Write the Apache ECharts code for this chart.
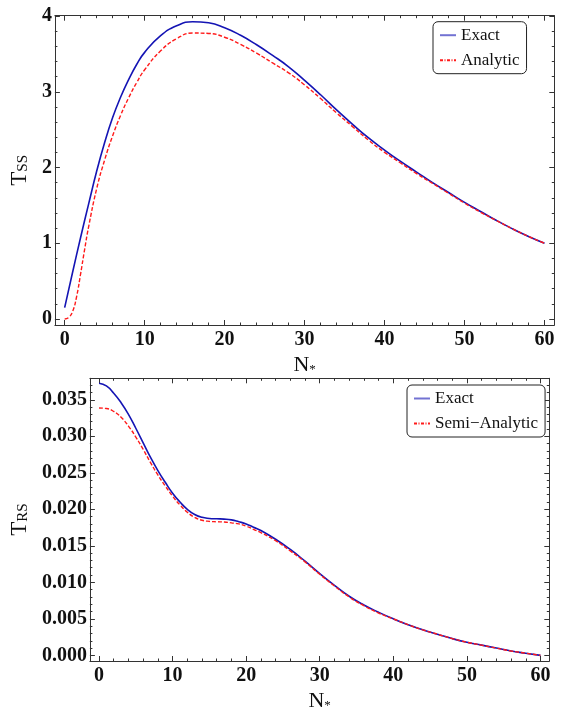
<!DOCTYPE html>
<html>
<head>
<meta charset="utf-8">
<script src="https://cdn.jsdelivr.net/npm/echarts@6/dist/echarts.min.js"></script>
<style>
  html, body { margin: 0; padding: 0; background: #fff; }
  #chart { width: 563px; height: 713px; }
</style>
</head>
<body>
<div id="chart"></div>
<script>
// ---- Upper panel: T_SS versus N* ----
const nTopExact = [0, 1, 2, 3, 4, 5, 6, 7, 8, 9, 10, 12, 14, 16, 18, 20, 22, 24, 26, 28, 30,
  32, 34, 36, 38, 40, 42, 44, 46, 48, 50, 52, 54, 56, 58, 60];
const exactTop = [0.15, 0.62, 1.08, 1.52, 1.95, 2.33, 2.66, 2.93, 3.16, 3.36, 3.52, 3.74, 3.87, 3.925,
  3.91, 3.845, 3.745, 3.62, 3.48, 3.33, 3.15, 2.96, 2.76, 2.57, 2.39, 2.23, 2.08, 1.94, 1.80,
  1.67, 1.54, 1.42, 1.30, 1.19, 1.09, 1.00];

const nTopAnalytic = [0, 0.5, 1, 1.5, 2, 2.5, 3, 4, 5, 6, 7, 8, 9, 10, 12, 14, 16, 18, 20, 22,
  24, 26, 28, 30, 32, 34, 36, 38, 40, 42, 44, 46, 48, 50, 52, 54, 56, 58, 60];
const analyticTop = [0.0, 0.02, 0.1, 0.3, 0.6, 0.92, 1.22, 1.72, 2.1, 2.42, 2.69, 2.92, 3.12, 3.29,
  3.54, 3.70, 3.775, 3.77, 3.72, 3.625, 3.51, 3.38, 3.25, 3.09, 2.91, 2.72, 2.54, 2.36, 2.20,
  2.06, 1.92, 1.79, 1.66, 1.53, 1.41, 1.30, 1.19, 1.09, 1.00];

// ---- Lower panel: T_RS versus N* ----
const nBottom = [0, 1, 2, 3, 4, 5, 6, 7, 8, 9, 10, 11, 12, 13, 14, 15, 16, 17, 18, 19, 20, 21, 22,
  24, 26, 28, 30, 32, 34, 36, 38, 40, 42, 44, 46, 48, 50, 52, 54, 56, 58, 60];
const exactBottom = [0.03727, 0.0369, 0.0359, 0.0346, 0.0330, 0.0311, 0.0291, 0.0271, 0.0253,
  0.0237, 0.0222, 0.0210, 0.0200, 0.0193, 0.0189, 0.01875, 0.01870, 0.01866, 0.01855, 0.0183,
  0.0180, 0.01755, 0.0171, 0.0159, 0.0145, 0.0129, 0.0112, 0.0096, 0.0081, 0.0069, 0.0059, 0.0050,
  0.0042, 0.0035, 0.0029, 0.0023, 0.0018, 0.0014, 0.0010, 0.0006, 0.0003, 0.0];
const semiBottom = [0.03387, 0.0338, 0.0334, 0.0326, 0.0314, 0.0299, 0.0282, 0.0264, 0.0247,
  0.0232, 0.0218, 0.0206, 0.0196, 0.0189, 0.0185, 0.01835, 0.01830, 0.01826, 0.01815, 0.0180,
  0.0177, 0.01725, 0.0168, 0.0157, 0.0143, 0.0128, 0.0111, 0.0095, 0.0080, 0.0068, 0.0058, 0.0050,
  0.0042, 0.0035, 0.0029, 0.0023, 0.0018, 0.0014, 0.0010, 0.0006, 0.0003, 0.0];

// ---- Tick labels ----
const xTicks = [0, 10, 20, 30, 40, 50, 60];
const yTicksTop = [0, 1, 2, 3, 4];
const yTicksBottom = [0, 0.005, 0.010, 0.015, 0.020, 0.025, 0.030, 0.035];

// minor ticks: 5 subdivisions of each major step, kept inside [lo, hi]
function minorTicks(step, lo, hi) {
  const out = [];
  const sub = step / 5;
  const start = Math.ceil(lo / sub);
  const end = Math.floor(hi / sub);
  for (let k = start; k <= end; k++) {
    if (k % 5 !== 0) out.push(+(k * sub).toFixed(6));
  }
  return out;
}

const SERIF = '"Liberation Serif", "DejaVu Serif", serif';
const FRAME = '#333';

function pairs(xs, ys) { return xs.map((x, i) => [x, ys[i]]); }

// Four x axes per panel: labelled bottom frame, bottom minor ticks, top frame, top minor ticks
function xFrame(grid, min, max, majors, minors, name) {
  const base = { gridIndex: grid, type: 'value', min: min, max: max, splitLine: { show: false } };
  return [
    Object.assign({}, base, {
      position: 'bottom',
      axisLine: { show: true, onZero: false, lineStyle: { color: FRAME, width: 1 } },
      axisTick: { show: true, inside: true, length: 5, customValues: majors, lineStyle: { color: FRAME } },
      axisLabel: { show: true, customValues: majors, margin: 5, color: '#111',
        fontFamily: SERIF, fontSize: 20, fontWeight: 'bold' },
      name: name, nameLocation: 'middle', nameGap: 25,
      nameTextStyle: { rich: {
        n: { fontFamily: SERIF, fontSize: 22, color: '#111', lineHeight: 26, verticalAlign: 'bottom' },
        s: { fontFamily: SERIF, fontSize: 13, color: '#111', lineHeight: 12, verticalAlign: 'bottom' }
      } }
    }),
    Object.assign({}, base, {
      position: 'bottom',
      axisLine: { show: false, onZero: false },
      axisTick: { show: true, inside: true, length: 2.5, customValues: minors, lineStyle: { color: FRAME } },
      axisLabel: { show: false }
    }),
    Object.assign({}, base, {
      position: 'top',
      axisLine: { show: true, onZero: false, lineStyle: { color: FRAME, width: 1 } },
      axisTick: { show: true, inside: true, length: 5, customValues: majors, lineStyle: { color: FRAME } },
      axisLabel: { show: false }
    }),
    Object.assign({}, base, {
      position: 'top',
      axisLine: { show: false, onZero: false },
      axisTick: { show: true, inside: true, length: 2.5, customValues: minors, lineStyle: { color: FRAME } },
      axisLabel: { show: false }
    })
  ];
}

function yFrame(grid, min, max, majors, minors, name, gap, fmt) {
  const base = { gridIndex: grid, type: 'value', min: min, max: max, splitLine: { show: false } };
  return [
    Object.assign({}, base, {
      position: 'left',
      axisLine: { show: true, onZero: false, lineStyle: { color: FRAME, width: 1 } },
      axisTick: { show: true, inside: true, length: 5, customValues: majors, lineStyle: { color: FRAME } },
      axisLabel: { show: true, customValues: majors, margin: 3, color: '#111', formatter: fmt,
        fontFamily: SERIF, fontSize: 20, fontWeight: 'bold' },
      name: name, nameLocation: 'middle', nameGap: gap,
      nameTextStyle: { rich: {
        t: { fontFamily: SERIF, fontSize: 23, color: '#111', lineHeight: 26, verticalAlign: 'bottom' },
        s: { fontFamily: SERIF, fontSize: 15, color: '#111', lineHeight: 14, verticalAlign: 'bottom' }
      } }
    }),
    Object.assign({}, base, {
      position: 'left',
      axisLine: { show: false, onZero: false },
      axisTick: { show: true, inside: true, length: 2.5, customValues: minors, lineStyle: { color: FRAME } },
      axisLabel: { show: false }
    }),
    Object.assign({}, base, {
      position: 'right',
      axisLine: { show: true, onZero: false, lineStyle: { color: FRAME, width: 1 } },
      axisTick: { show: true, inside: true, length: 5, customValues: majors, lineStyle: { color: FRAME } },
      axisLabel: { show: false }
    }),
    Object.assign({}, base, {
      position: 'right',
      axisLine: { show: false, onZero: false },
      axisTick: { show: true, inside: true, length: 2.5, customValues: minors, lineStyle: { color: FRAME } },
      axisLabel: { show: false }
    })
  ];
}

const topX = [-1.22, 61.22];
const topY = [-0.079, 4.004];
const botX = [-1.24, 61.2];
const botY = [-0.00077, 0.03794];

const xAxes = [].concat(
  xFrame(0, topX[0], topX[1], xTicks, minorTicks(10, topX[0], topX[1]), '{n|N}{s|*}'),
  xFrame(1, botX[0], botX[1], xTicks, minorTicks(10, botX[0], botX[1]), '{n|N}{s|*}')
);
const yAxes = [].concat(
  yFrame(0, topY[0], topY[1], yTicksTop, minorTicks(1, topY[0], topY[1]), '{t|T}{s|SS}', 20,
    v => String(Math.round(v))),
  yFrame(1, botY[0], botY[1], yTicksBottom, minorTicks(0.005, botY[0], botY[1]), '{t|T}{s|RS}', 56,
    v => v.toFixed(3))
);

const BLUE = '#1414b4';
const RED = '#ff1a1a';

function curve(name, xIdx, yIdx, data, color, dashed, width) {
  return {
    name: name, type: 'line', xAxisIndex: xIdx, yAxisIndex: yIdx, data: data,
    symbol: 'none', showSymbol: false, smooth: 0.5,
    color: color,
    lineStyle: { color: color, width: width, type: dashed ? [4, 2] : 'solid' },
    emphasis: { disabled: true }
  };
}

function legendBox(left, top, names) {
  return {
    orient: 'vertical', left: left, top: top,
    data: names.map((n, i) => ({
      name: n,
      itemStyle: { opacity: 0 },
      lineStyle: i === 0 ? { opacity: 0.6 } : { type: [3, 1.5, 1, 1.5] }
    })),
    itemStyle: { opacity: 0 },
    padding: [5, 7, 5, 6], itemWidth: 16, itemHeight: 14, itemGap: 8,
    borderColor: '#222', borderWidth: 1, borderRadius: 5, backgroundColor: '#fff',
    selectedMode: false,
    textStyle: { fontFamily: SERIF, fontSize: 17, color: '#111' }
  };
}

const chart = echarts.init(document.getElementById('chart'), null, { renderer: 'canvas' });
chart.setOption({
  animation: false,
  backgroundColor: '#fff',
  grid: [
    { left: 52.7, top: 15.7, width: 501.6, height: 309.3, containLabel: false },
    { left: 86.7, top: 378.3, width: 462.6, height: 285.7, containLabel: false }
  ],
  xAxis: xAxes,
  yAxis: yAxes,
  legend: [
    legendBox(433, 21.7, ['Exact', 'Analytic']),
    legendBox(407, 385, ['Exact', 'Semi\u2212Analytic'])
  ],
  series: [
    curve('Exact', 0, 0, pairs(nTopExact, exactTop), BLUE, false, 1.6),
    curve('Analytic', 0, 0, pairs(nTopAnalytic, analyticTop), RED, true, 1.4),
    curve('Exact', 4, 4, pairs(nBottom, exactBottom), BLUE, false, 1.6),
    curve('Semi\u2212Analytic', 4, 4, pairs(nBottom, semiBottom), RED, true, 1.4)
  ]
});
</script>
</body>
</html>
